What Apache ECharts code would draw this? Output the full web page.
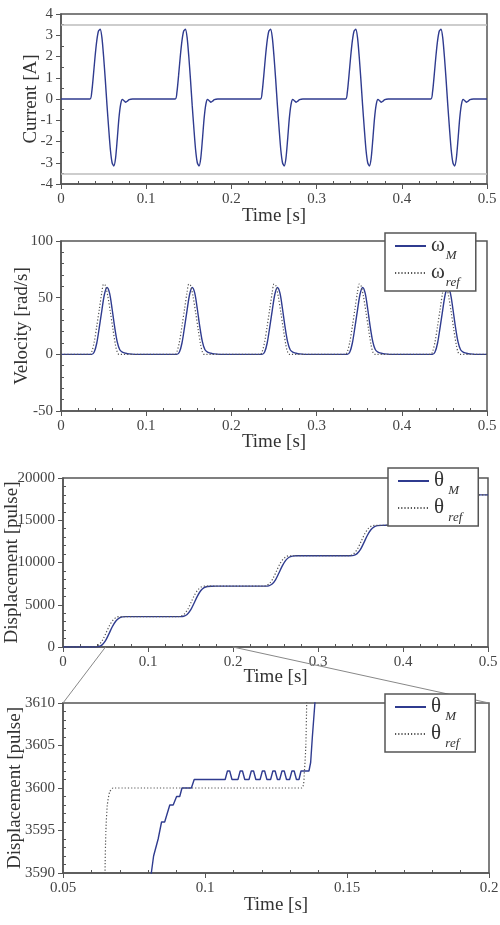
<!DOCTYPE html>
<html>
<head>
<meta charset="utf-8">
<script src="https://cdn.jsdelivr.net/npm/echarts@6/dist/echarts.min.js"></script>
<style>
html,body{margin:0;padding:0;background:#fff;}
#chart{width:500px;height:925px;}
</style>
</head>
<body>
<div id="chart"></div>
<script>
// ---------- DATA ----------
// Panel 1: motor current [A] vs time [s]
const currentData = [
  [0,0],[0.034,0],[0.036,0.3],[0.038,1.1],[0.040,2.0],[0.042,2.75],[0.044,3.2],[0.046,3.28],[0.048,2.9],[0.050,2.0],[0.052,0.9],[0.054,-0.3],[0.056,-1.4],[0.058,-2.4],[0.060,-3.0],[0.062,-3.15],[0.064,-2.8],[0.066,-1.9],[0.068,-0.9],[0.070,-0.25],[0.072,-0.02],[0.074,-0.08],[0.076,-0.15],[0.078,-0.1],[0.080,-0.03],[0.084,0],
  [0.134,0],[0.136,0.3],[0.138,1.1],[0.140,2.0],[0.142,2.75],[0.144,3.2],[0.146,3.28],[0.148,2.9],[0.150,2.0],[0.152,0.9],[0.154,-0.3],[0.156,-1.4],[0.158,-2.4],[0.160,-3.0],[0.162,-3.15],[0.164,-2.8],[0.166,-1.9],[0.168,-0.9],[0.170,-0.25],[0.172,-0.02],[0.174,-0.08],[0.176,-0.15],[0.178,-0.1],[0.180,-0.03],[0.184,0],
  [0.234,0],[0.236,0.3],[0.238,1.1],[0.240,2.0],[0.242,2.75],[0.244,3.2],[0.246,3.28],[0.248,2.9],[0.250,2.0],[0.252,0.9],[0.254,-0.3],[0.256,-1.4],[0.258,-2.4],[0.260,-3.0],[0.262,-3.15],[0.264,-2.8],[0.266,-1.9],[0.268,-0.9],[0.270,-0.25],[0.272,-0.02],[0.274,-0.08],[0.276,-0.15],[0.278,-0.1],[0.280,-0.03],[0.284,0],
  [0.334,0],[0.336,0.3],[0.338,1.1],[0.340,2.0],[0.342,2.75],[0.344,3.2],[0.346,3.28],[0.348,2.9],[0.350,2.0],[0.352,0.9],[0.354,-0.3],[0.356,-1.4],[0.358,-2.4],[0.360,-3.0],[0.362,-3.15],[0.364,-2.8],[0.366,-1.9],[0.368,-0.9],[0.370,-0.25],[0.372,-0.02],[0.374,-0.08],[0.376,-0.15],[0.378,-0.1],[0.380,-0.03],[0.384,0],
  [0.434,0],[0.436,0.3],[0.438,1.1],[0.440,2.0],[0.442,2.75],[0.444,3.2],[0.446,3.28],[0.448,2.9],[0.450,2.0],[0.452,0.9],[0.454,-0.3],[0.456,-1.4],[0.458,-2.4],[0.460,-3.0],[0.462,-3.15],[0.464,-2.8],[0.466,-1.9],[0.468,-0.9],[0.470,-0.25],[0.472,-0.02],[0.474,-0.08],[0.476,-0.15],[0.478,-0.1],[0.480,-0.03],[0.484,0],
  [0.5,0]
];
const currentLimits = [3.5, -3.5];

// Panel 2: velocity [rad/s]
const omegaM = [
  [0,0],[0.036,0],[0.039,2],[0.042,10],[0.045,24],[0.048,39],[0.051,53],[0.054,59],[0.057,54],[0.060,40],[0.063,24],[0.066,11],[0.069,4],[0.072,2],[0.076,1],[0.080,0.4],[0.086,0],
  [0.136,0],[0.139,2],[0.142,10],[0.145,24],[0.148,39],[0.151,53],[0.154,59],[0.157,54],[0.160,40],[0.163,24],[0.166,11],[0.169,4],[0.172,2],[0.176,1],[0.180,0.4],[0.186,0],
  [0.236,0],[0.239,2],[0.242,10],[0.245,24],[0.248,39],[0.251,53],[0.254,59],[0.257,54],[0.260,40],[0.263,24],[0.266,11],[0.269,4],[0.272,2],[0.276,1],[0.280,0.4],[0.286,0],
  [0.336,0],[0.339,2],[0.342,10],[0.345,24],[0.348,39],[0.351,53],[0.354,59],[0.357,54],[0.360,40],[0.363,24],[0.366,11],[0.369,4],[0.372,2],[0.376,1],[0.380,0.4],[0.386,0],
  [0.436,0],[0.439,2],[0.442,10],[0.445,24],[0.448,39],[0.451,53],[0.454,59],[0.457,54],[0.460,40],[0.463,24],[0.466,11],[0.469,4],[0.472,2],[0.476,1],[0.480,0.4],[0.486,0],
  [0.5,0]
];
const omegaRef = [
  [0,0],[0.034,0],[0.036,2],[0.039,11],[0.042,25],[0.045,40],[0.048,55],[0.050,62],[0.052,61],[0.055,51],[0.058,37],[0.061,22],[0.064,8],[0.066,2],[0.068,0],
  [0.134,0],[0.136,2],[0.139,11],[0.142,25],[0.145,40],[0.148,55],[0.150,62],[0.152,61],[0.155,51],[0.158,37],[0.161,22],[0.164,8],[0.166,2],[0.168,0],
  [0.234,0],[0.236,2],[0.239,11],[0.242,25],[0.245,40],[0.248,55],[0.250,62],[0.252,61],[0.255,51],[0.258,37],[0.261,22],[0.264,8],[0.266,2],[0.268,0],
  [0.334,0],[0.336,2],[0.339,11],[0.342,25],[0.345,40],[0.348,55],[0.350,62],[0.352,61],[0.355,51],[0.358,37],[0.361,22],[0.364,8],[0.366,2],[0.368,0],
  [0.434,0],[0.436,2],[0.439,11],[0.442,25],[0.445,40],[0.448,55],[0.450,62],[0.452,61],[0.455,51],[0.458,37],[0.461,22],[0.464,8],[0.466,2],[0.468,0],
  [0.5,0]
];

// Panel 3: displacement [pulse]
const thetaM = [
  [0,0],[0.038,0],[0.042,40],[0.046,250],[0.050,750],[0.054,1550],[0.058,2400],[0.062,3050],[0.066,3420],[0.070,3560],[0.075,3595],[0.080,3600],
  [0.138,3600],[0.142,3640],[0.146,3850],[0.150,4350],[0.154,5150],[0.158,6000],[0.162,6650],[0.166,7020],[0.170,7160],[0.175,7195],[0.180,7200],
  [0.238,7200],[0.242,7240],[0.246,7450],[0.250,7950],[0.254,8750],[0.258,9600],[0.262,10250],[0.266,10620],[0.270,10760],[0.275,10795],[0.280,10800],
  [0.338,10800],[0.342,10840],[0.346,11050],[0.350,11550],[0.354,12350],[0.358,13200],[0.362,13850],[0.366,14220],[0.370,14360],[0.375,14395],[0.380,14400],
  [0.438,14400],[0.442,14440],[0.446,14650],[0.450,15150],[0.454,15950],[0.458,16800],[0.462,17450],[0.466,17820],[0.470,17960],[0.475,17995],[0.480,18000],
  [0.5,18000]
];
const thetaRef = [
  [0,0],[0.035,0],[0.039,60],[0.043,330],[0.047,900],[0.051,1750],[0.055,2600],[0.059,3200],[0.063,3520],[0.066,3595],[0.068,3600],
  [0.135,3600],[0.139,3660],[0.143,3930],[0.147,4500],[0.151,5350],[0.155,6200],[0.159,6800],[0.163,7120],[0.166,7195],[0.168,7200],
  [0.235,7200],[0.239,7260],[0.243,7530],[0.247,8100],[0.251,8950],[0.255,9800],[0.259,10400],[0.263,10720],[0.266,10795],[0.268,10800],
  [0.335,10800],[0.339,10860],[0.343,11130],[0.347,11700],[0.351,12550],[0.355,13400],[0.359,14000],[0.363,14320],[0.366,14395],[0.368,14400],
  [0.435,14400],[0.439,14460],[0.443,14730],[0.447,15300],[0.451,16150],[0.455,17000],[0.459,17600],[0.463,17920],[0.466,17995],[0.468,18000],
  [0.5,18000]
];

// Panel 4: zoomed displacement [pulse]
const thetaMZoom = [
  [0.079,3570],[0.0811,3590],[0.0819,3592],[0.0835,3594],[0.0847,3596],[0.0858,3596],[0.0876,3598],[0.0888,3598],[0.0900,3599],[0.0911,3599],[0.0919,3600],[0.0952,3600],[0.0962,3601],
  [0.1071,3601],[0.1079,3602],[0.1087,3602],[0.1095,3601],
  [0.1116,3601],[0.1124,3602],[0.1132,3602],[0.1140,3601],
  [0.1155,3601],[0.1163,3602],[0.1171,3602],[0.1179,3601],
  [0.1194,3601],[0.1202,3602],[0.1210,3602],[0.1218,3601],
  [0.1231,3601],[0.1239,3602],[0.1247,3602],[0.1255,3601],
  [0.1263,3601],[0.1271,3602],[0.1279,3602],[0.1287,3601],
  [0.1298,3601],[0.1306,3602],[0.1314,3602],[0.1322,3601],
  [0.1331,3601],[0.1338,3602],[0.1366,3602],[0.1372,3603],[0.1378,3606],[0.1387,3610],[0.1395,3620]
];
const thetaRefZoom = [
  [0.0645,3550],[0.0648,3590],[0.0651,3595],[0.0656,3598],[0.0664,3599.5],[0.0676,3600],[0.1340,3600],[0.1350,3602],[0.1355,3605],[0.1358,3610],[0.1365,3630]
];

// Axis ranges / ticks
const timeRange = [0, 0.5], timeStep = 0.1;
const zoomTimeRange = [0.05, 0.2], zoomTimeStep = 0.05;
const currentRange = [-4, 4], currentStep = 1;
const velocityRange = [-50, 100], velocityStep = 50;
const dispRange = [0, 20000], dispStep = 5000;
const zoomDispRange = [3590, 3610], zoomDispStep = 5;

const legendLabels = {
  wM: '{b|ω}{s|M}', wRef: '{b|ω}{s|ref}',
  thM: '{b|θ}{s| M}', thRef: '{b|θ}{s| ref}',
  thMz: '{b|θ}{s| M}', thRefz: '{b|θ}{s| ref}'
};

// ---------- CHART ----------
const FONT = 'Liberation Serif';
const AX = '#555';
const BLUE = '#2f3b8f';
const chart = echarts.init(document.getElementById('chart'), null, {renderer: 'canvas'});

const grids = [
  {left: 61, right: 13, top: 14, height: 170},
  {left: 61, right: 13, top: 241, height: 170},
  {left: 63, right: 12, top: 478, height: 169},
  {left: 63, right: 11, top: 703, height: 170}
].map(g => Object.assign(g, {show: true, borderColor: AX, borderWidth: 1.5, backgroundColor: 'transparent', outerBoundsMode: 'none'}));

function xAxes(gi, range, step, nameGap) {
  return [{
    type: 'value', gridIndex: gi, min: range[0], max: range[1], interval: step, position: 'bottom',
    axisLine: {show: true, onZero: false, lineStyle: {color: AX, width: 1.5}},
    axisTick: {show: true, length: 5, lineStyle: {color: AX, width: 1}},
    axisLabel: {fontFamily: FONT, fontSize: 15, color: '#444', margin: 8, hideOverlap: false},
    splitLine: {show: false},
    name: 'Time [s]', nameLocation: 'middle', nameGap: nameGap, nameMoveOverlap: false,
    nameTextStyle: {fontFamily: FONT, fontSize: 19, color: '#333'}
  }, {
    type: 'value', gridIndex: gi, min: range[0], max: range[1], interval: step, position: 'bottom',
    axisLine: {show: false, onZero: false}, axisTick: {show: false, inside: true},
    minorTick: {show: true, splitNumber: 5, length: 3, lineStyle: {color: AX}},
    axisLabel: {show: false}, splitLine: {show: false}
  }];
}
function yAxes(gi, range, step, minorSplit, name, nameGap) {
  return [{
    type: 'value', gridIndex: gi, min: range[0], max: range[1], interval: step, position: 'left',
    axisLine: {show: true, onZero: false, lineStyle: {color: AX, width: 1.5}},
    axisTick: {show: true, length: 5, lineStyle: {color: AX, width: 1}},
    axisLabel: {fontFamily: FONT, fontSize: 15, color: '#444', margin: 8, hideOverlap: false, formatter: v => String(v)},
    splitLine: {show: false},
    name: name, nameLocation: 'middle', nameGap: nameGap, nameMoveOverlap: false,
    nameTextStyle: {fontFamily: FONT, fontSize: 19, color: '#333'}
  }, {
    type: 'value', gridIndex: gi, min: range[0], max: range[1], interval: step, position: 'left',
    axisLine: {show: false, onZero: false}, axisTick: {show: false, inside: true},
    minorTick: {show: true, splitNumber: minorSplit, length: 3, lineStyle: {color: AX}},
    axisLabel: {show: false}, splitLine: {show: false}
  }];
}

const xAxis = [].concat(
  xAxes(0, timeRange, timeStep, 23),
  xAxes(1, timeRange, timeStep, 22),
  xAxes(2, timeRange, timeStep, 21),
  xAxes(3, zoomTimeRange, zoomTimeStep, 23)
);
const yAxis = [].concat(
  yAxes(0, currentRange, currentStep, 2, 'Current [A]', 20),
  yAxes(1, velocityRange, velocityStep, 5, 'Velocity [rad/s]', 29),
  yAxes(2, dispRange, dispStep, 5, 'Displacement [pulse]', 41),
  yAxes(3, zoomDispRange, zoomDispStep, 5, 'Displacement [pulse]', 38)
);

function lineSeries(name, data, axisIdx, dotted, smooth) {
  return {
    type: 'line', name: name, data: data, xAxisIndex: axisIdx, yAxisIndex: axisIdx,
    showSymbol: false, symbol: 'none', smooth: smooth, clip: true,
    lineStyle: dotted ? {color: '#555', width: 1.2, type: [1.2, 2]} : {color: BLUE, width: 1.4},
    itemStyle: {color: dotted ? '#555' : BLUE},
    z: dotted ? 3 : 2
  };
}

const series = [
  Object.assign(lineSeries('current', currentData, 0, false, 0.25), {
    markLine: {
      silent: true, symbol: 'none', animation: false, label: {show: false},
      lineStyle: {color: '#bdbdbd', type: 'solid', width: 1.5},
      data: currentLimits.map(v => ({yAxis: v}))
    }
  }),
  lineSeries('wM', omegaM, 2, false, 0.3),
  lineSeries('wRef', omegaRef, 2, true, 0.3),
  lineSeries('thM', thetaM, 4, false, 0.3),
  lineSeries('thRef', thetaRef, 4, true, 0.3),
  lineSeries('thMz', thetaMZoom, 6, false, false),
  lineSeries('thRefz', thetaRefZoom, 6, true, 0.2)
];

function legend(names, left, top) {
  return {
    data: names, orient: 'vertical', left: left, top: top,
    backgroundColor: '#fff', borderColor: AX, borderWidth: 1.5, borderRadius: 0,
    padding: [2, 16, 2, 9], itemGap: 0, itemWidth: 31, itemHeight: 12,
    selectedMode: false, z: 10,
    itemStyle: {opacity: 0},
    formatter: n => legendLabels[n],
    textStyle: {
      fontFamily: FONT, color: '#333',
      rich: {
        b: {fontFamily: FONT, fontSize: 21, lineHeight: 22, verticalAlign: 'top', color: '#333'},
        s: {fontFamily: FONT, fontSize: 13, fontStyle: 'italic', lineHeight: 13, padding: [14, 0, 0, 1], verticalAlign: 'top', color: '#333'}
      }
    }
  };
}

chart.setOption({
  animation: false,
  backgroundColor: '#fff',
  grid: grids,
  xAxis: xAxis,
  yAxis: yAxis,
  legend: [
    legend(['wM', 'wRef'], 385, 233),
    legend(['thM', 'thRef'], 388, 468),
    legend(['thMz', 'thRefz'], 385, 694)
  ],
  series: series
});

// zoom connector lines from panel 3 to panel 4
const a1 = chart.convertToPixel({xAxisIndex: 4, yAxisIndex: 4}, [zoomTimeRange[0], dispRange[0]]);
const a2 = chart.convertToPixel({xAxisIndex: 4, yAxisIndex: 4}, [zoomTimeRange[1], dispRange[0]]);
const b1 = chart.convertToPixel({xAxisIndex: 6, yAxisIndex: 6}, [zoomTimeRange[0], zoomDispRange[1]]);
const b2 = chart.convertToPixel({xAxisIndex: 6, yAxisIndex: 6}, [zoomTimeRange[1], zoomDispRange[1]]);
chart.setOption({
  graphic: [
    {type: 'line', z: 1, shape: {x1: a1[0], y1: a1[1], x2: b1[0], y2: b1[1]}, style: {stroke: '#888', lineWidth: 1}, silent: true},
    {type: 'line', z: 1, shape: {x1: a2[0], y1: a2[1], x2: b2[0], y2: b2[1]}, style: {stroke: '#888', lineWidth: 1}, silent: true}
  ]
});
</script>
</body>
</html>
